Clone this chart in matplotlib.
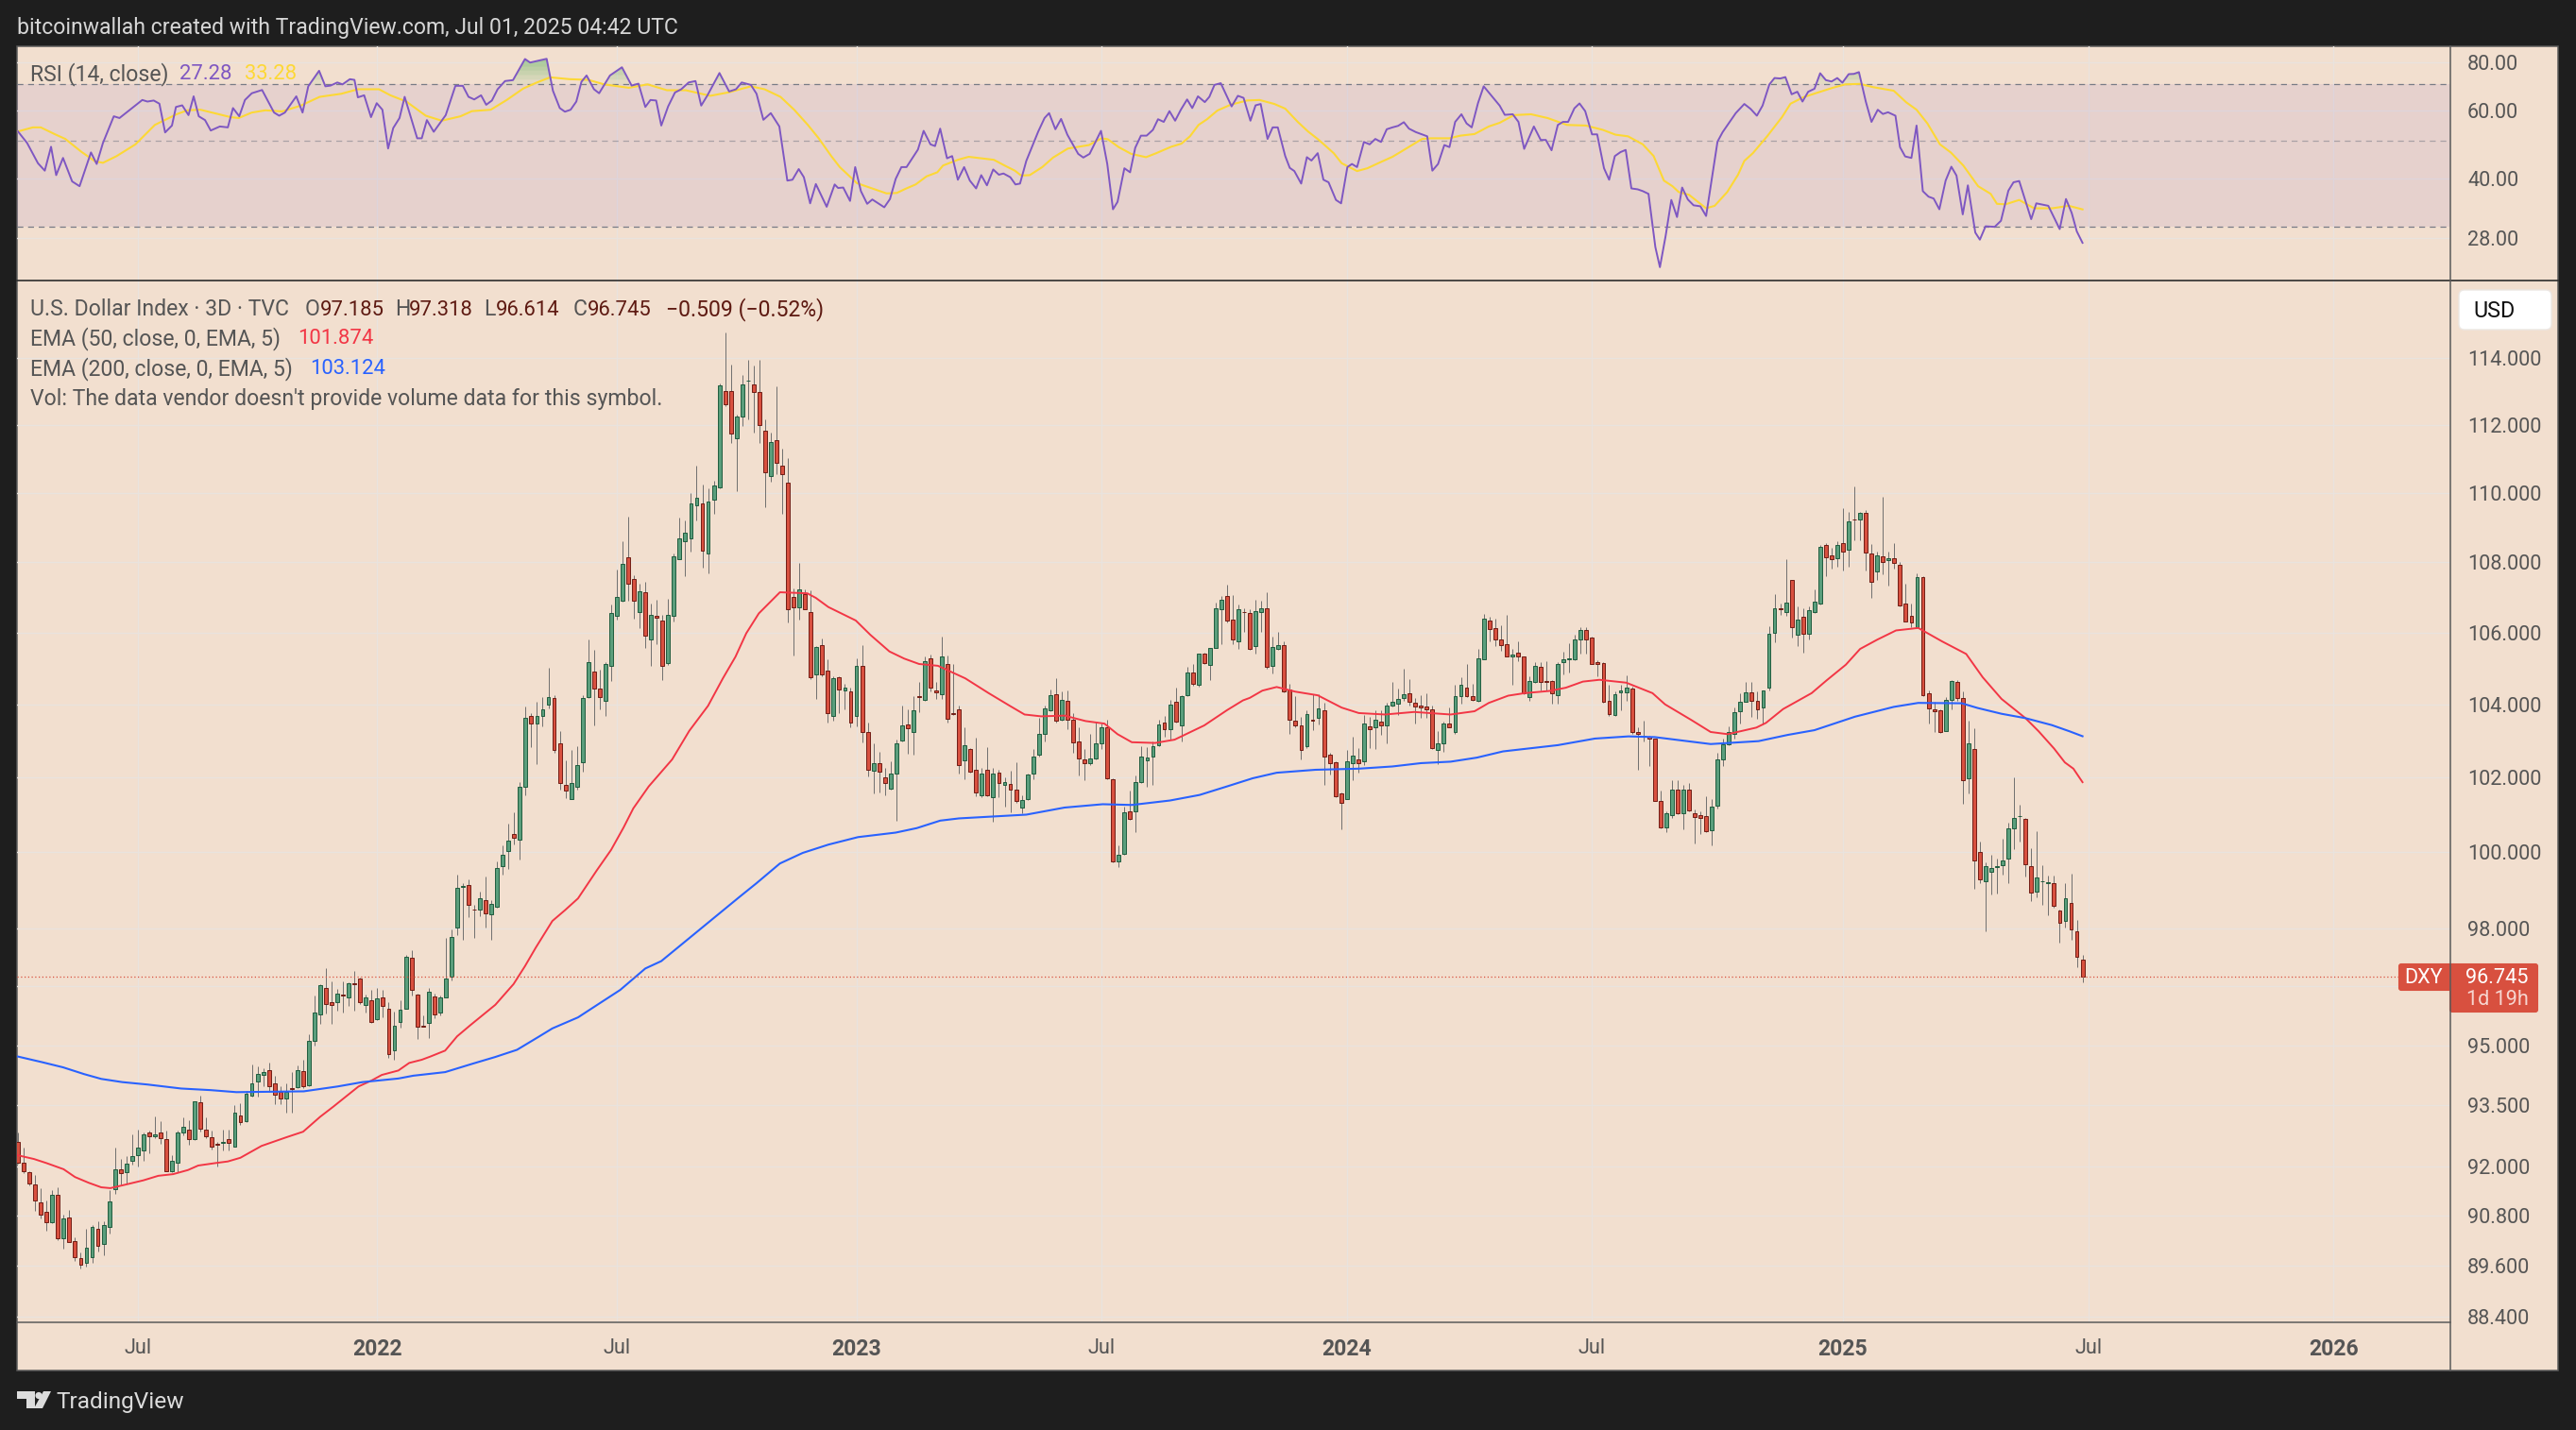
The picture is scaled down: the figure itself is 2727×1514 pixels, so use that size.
import numpy as np
import matplotlib
matplotlib.use('Agg')
import matplotlib.pyplot as plt
from matplotlib.patches import FancyBboxPatch, Rectangle, Polygon, Circle
from matplotlib.ticker import FixedLocator, FixedFormatter, NullLocator

plt.rcParams['font.family'] = ['Roboto', 'DejaVu Sans']

# DXY 3D candles
opens = [
    92.61, 92.10, 91.87, 91.57, 91.13, 90.89, 90.64, 91.31, 90.25, 90.76,
    90.20, 89.78, 89.68, 89.81, 90.48, 90.13, 90.53, 91.45, 91.92, 91.86,
    92.13, 92.28, 92.40, 92.83, 92.74, 92.83, 92.66, 91.89, 92.08, 92.82,
    92.91, 92.66, 93.58, 92.91, 92.72, 92.55, 92.58, 92.66, 92.49, 93.26,
    93.10, 93.75, 94.09, 94.25, 94.39, 94.05, 93.83, 93.67, 93.92, 93.96,
    94.35, 94.00, 95.11, 95.79, 96.47, 96.09, 96.09, 96.30, 96.23, 96.57,
    96.69, 96.03, 96.15, 95.67, 96.21, 95.94, 94.88, 95.60, 95.94, 97.23,
    96.28, 95.50, 95.57, 96.25, 95.84, 96.23, 96.76, 98.03, 99.09, 99.13,
    98.50, 98.49, 98.74, 98.36, 98.55, 99.64, 100.02, 100.49, 100.33, 101.74,
    103.67, 103.46, 103.67, 104.00, 104.17, 102.92, 101.79, 101.43, 101.76, 102.41,
    104.19, 104.90, 104.43, 104.11, 105.06, 106.48, 106.89, 108.13, 107.51, 106.59,
    107.13, 105.82, 106.48, 106.34, 105.15, 106.46, 108.09, 108.61, 108.69, 109.63,
    109.69, 108.24, 109.80, 110.17, 113.03, 113.03, 111.61, 112.26, 113.32, 113.21,
    113.00, 111.83, 110.49, 111.55, 110.81, 110.31, 107.00, 106.70, 107.08, 106.57,
    104.82, 105.64, 104.93, 103.67, 104.74, 104.39, 104.37, 103.67, 105.06, 103.24,
    102.18, 102.39, 102.00, 101.71, 102.10, 103.00, 103.44, 103.23, 104.22, 104.13,
    105.27, 104.39, 104.28, 105.13, 103.75, 103.87, 102.47, 102.77, 102.21, 101.51,
    102.21, 101.48, 102.13, 101.81, 101.82, 101.68, 101.20, 101.41, 102.10, 102.61,
    103.20, 103.84, 104.29, 103.57, 104.11, 103.57, 102.98, 102.49, 102.39, 102.52,
    102.92, 103.36, 101.95, 99.75, 99.96, 101.10, 101.09, 101.88, 102.46, 102.56,
    102.88, 103.49, 103.33, 104.08, 103.43, 104.26, 104.87, 104.54, 105.40, 105.10,
    105.58, 106.67, 107.03, 106.36, 105.75, 106.59, 106.55, 105.61, 106.59, 106.68,
    105.08, 105.53, 105.64, 104.41, 103.55, 103.42, 102.84, 103.58, 103.64, 103.83,
    102.62, 102.42, 101.56, 101.43, 102.40, 102.49, 102.45, 103.39, 103.36, 103.52,
    103.43, 103.96, 104.03, 104.18, 104.30, 104.04, 103.97, 103.93, 103.85, 102.74,
    102.93, 103.47, 103.25, 104.22, 104.47, 104.22, 104.11, 105.26, 106.33, 106.12,
    105.82, 105.67, 105.32, 105.43, 105.33, 104.21, 104.61, 105.04, 104.65, 104.64,
    104.26, 105.17, 105.26, 105.26, 105.82, 106.06, 105.85, 105.17, 105.14, 104.09,
    103.70, 104.32, 104.34, 104.43, 103.24, 103.11, 103.11, 103.06, 101.36, 100.66,
    101.00, 101.67, 101.04, 101.67, 101.05, 101.00, 100.97, 100.59, 101.25, 102.48,
    102.90, 103.20, 103.82, 104.08, 104.32, 104.09, 103.92, 104.45, 106.00, 106.68,
    106.59, 107.50, 105.95, 106.44, 105.97, 106.57, 106.81, 108.50, 108.20, 108.11,
    108.55, 108.36, 109.24, 109.23, 109.43, 108.25, 107.73, 108.17, 108.05, 108.12,
    107.93, 106.82, 106.47, 106.16, 107.58, 104.30, 103.85, 103.84, 103.27, 104.12,
    104.63, 104.17, 101.99, 102.77, 100.00, 99.23, 99.48, 99.60, 99.65, 99.83,
    100.64, 100.95, 100.89, 99.63, 98.96, 99.22, 99.18, 99.19, 98.47, 98.19,
    98.67, 97.93, 97.19,
]
highs = [
    92.83, 92.46, 91.88, 91.78, 91.46, 91.16, 91.43, 91.48, 90.83, 90.95,
    90.29, 89.93, 90.48, 90.58, 90.66, 90.66, 91.43, 92.46, 92.18, 92.24,
    92.78, 92.91, 92.84, 92.87, 93.22, 93.10, 92.88, 92.27, 92.88, 93.21,
    93.14, 93.61, 93.74, 93.21, 92.88, 92.61, 92.89, 92.91, 93.50, 93.56,
    93.85, 94.52, 94.48, 94.43, 94.58, 94.23, 93.97, 94.06, 94.33, 94.49,
    94.63, 95.28, 96.26, 96.56, 96.96, 96.64, 96.43, 96.63, 96.60, 96.90,
    96.72, 96.28, 96.41, 96.45, 96.41, 96.09, 95.86, 96.15, 97.30, 97.44,
    96.31, 95.76, 96.45, 96.32, 96.26, 97.74, 97.96, 99.41, 99.17, 99.29,
    98.61, 98.96, 99.36, 98.74, 99.76, 100.19, 100.77, 101.06, 101.87, 103.94,
    103.76, 104.07, 104.20, 105.01, 104.25, 103.27, 102.47, 102.75, 102.85, 104.25,
    105.80, 105.51, 104.96, 105.16, 106.79, 107.78, 108.61, 109.32, 107.62, 107.38,
    107.43, 106.82, 106.94, 106.49, 106.95, 108.24, 109.29, 109.19, 110.01, 110.81,
    110.24, 110.14, 110.35, 113.24, 114.80, 113.81, 112.31, 113.51, 113.95, 113.78,
    113.96, 112.16, 111.79, 113.17, 111.29, 111.01, 107.25, 107.99, 107.23, 107.19,
    105.63, 105.83, 105.25, 104.77, 104.79, 104.57, 104.46, 105.27, 105.65, 103.49,
    102.92, 102.71, 102.25, 102.44, 103.02, 103.96, 103.86, 104.24, 104.62, 105.32,
    105.39, 104.62, 105.88, 105.35, 105.12, 103.96, 103.37, 102.80, 103.08, 102.25,
    102.83, 102.25, 102.22, 102.00, 102.18, 102.41, 101.51, 102.12, 102.78, 103.62,
    103.96, 104.41, 104.72, 104.36, 104.38, 103.76, 103.37, 102.78, 103.18, 103.52,
    103.47, 103.57, 101.97, 100.18, 101.21, 101.66, 102.05, 102.86, 102.83, 102.98,
    103.57, 103.69, 104.13, 104.46, 104.26, 105.03, 105.12, 105.42, 105.44, 105.58,
    106.85, 107.03, 107.35, 107.05, 106.80, 106.68, 106.65, 106.92, 106.90, 107.13,
    105.89, 106.02, 105.75, 104.57, 104.22, 103.66, 103.83, 104.28, 104.28, 104.04,
    102.67, 102.45, 101.60, 102.76, 103.11, 102.80, 103.70, 103.66, 103.83, 103.83,
    104.04, 104.61, 104.44, 104.99, 104.70, 104.18, 104.26, 104.31, 103.96, 103.27,
    103.53, 103.91, 104.53, 104.75, 105.12, 104.57, 105.54, 106.53, 106.44, 106.40,
    106.20, 106.49, 105.55, 105.75, 105.34, 104.79, 105.18, 105.16, 105.20, 104.66,
    105.18, 105.45, 105.71, 105.93, 106.15, 106.15, 105.89, 105.23, 105.16, 104.53,
    104.35, 104.53, 104.81, 104.48, 103.36, 103.55, 103.14, 103.07, 101.66, 101.09,
    101.92, 101.94, 101.79, 101.85, 101.13, 101.09, 101.50, 101.43, 102.67, 103.06,
    103.40, 103.91, 104.31, 104.61, 104.61, 104.35, 104.39, 106.18, 107.10, 106.83,
    108.09, 107.50, 106.74, 106.69, 106.74, 107.21, 108.50, 108.55, 108.41, 108.59,
    109.55, 109.45, 110.20, 109.45, 109.50, 108.53, 108.29, 109.89, 108.29, 108.56,
    108.00, 107.39, 106.83, 107.68, 107.59, 104.38, 104.07, 103.86, 104.20, 104.67,
    104.67, 104.36, 103.54, 103.34, 100.27, 99.73, 99.93, 99.84, 100.36, 100.79,
    102.01, 101.26, 100.90, 100.10, 100.55, 99.66, 99.38, 99.38, 98.49, 99.17,
    99.42, 98.21, 97.32,
]
lows = [
    92.06, 91.84, 91.54, 90.92, 90.73, 90.45, 90.63, 90.22, 90.01, 90.16,
    89.71, 89.55, 89.59, 89.68, 89.94, 89.85, 90.38, 91.34, 91.56, 91.58,
    92.04, 92.00, 92.14, 92.31, 92.69, 92.56, 91.88, 91.85, 91.85, 92.76,
    92.53, 92.64, 92.85, 92.68, 92.42, 92.00, 92.38, 92.38, 92.48, 93.01,
    93.08, 93.73, 93.71, 93.97, 93.83, 93.54, 93.54, 93.33, 93.33, 93.93,
    93.93, 93.98, 94.99, 95.54, 95.80, 95.54, 95.89, 95.84, 96.00, 95.89,
    96.06, 95.84, 95.58, 95.65, 95.71, 94.69, 94.64, 95.45, 95.93, 96.26,
    95.16, 95.47, 95.18, 95.69, 95.76, 96.21, 96.65, 97.83, 97.70, 98.30,
    97.74, 98.32, 98.03, 97.69, 98.53, 99.40, 99.56, 100.21, 99.81, 101.52,
    102.83, 102.36, 103.40, 103.90, 102.68, 101.67, 101.44, 101.42, 101.68, 102.16,
    104.17, 103.42, 103.86, 103.68, 104.65, 106.36, 106.88, 106.90, 106.39, 106.12,
    105.57, 105.07, 105.68, 104.67, 105.09, 106.31, 108.09, 107.60, 108.31, 109.19,
    107.83, 107.69, 109.38, 110.14, 112.57, 111.48, 110.06, 111.97, 112.16, 111.79,
    111.48, 109.58, 110.33, 110.56, 109.38, 106.29, 105.35, 106.36, 106.65, 104.69,
    104.14, 104.77, 103.49, 103.55, 103.76, 103.86, 103.37, 103.39, 102.96, 102.02,
    101.56, 101.59, 101.53, 101.68, 100.84, 102.98, 102.64, 102.61, 103.79, 104.10,
    104.36, 104.16, 104.16, 103.51, 103.71, 102.10, 101.95, 102.14, 101.49, 101.46,
    101.49, 100.82, 101.46, 101.21, 101.06, 101.31, 101.05, 101.39, 101.96, 102.57,
    102.98, 103.81, 103.49, 103.55, 103.32, 102.67, 102.05, 101.94, 102.35, 102.49,
    102.78, 101.96, 99.73, 99.60, 99.93, 100.87, 100.54, 101.86, 101.75, 101.80,
    102.86, 103.12, 103.03, 103.49, 102.98, 104.24, 104.52, 104.49, 105.12, 104.67,
    105.56, 105.68, 106.29, 105.68, 105.55, 106.02, 105.52, 105.40, 106.02, 104.99,
    104.86, 105.52, 104.33, 103.20, 103.36, 102.50, 102.80, 103.29, 103.44, 101.79,
    102.09, 101.46, 100.62, 101.42, 101.94, 102.13, 102.35, 102.80, 102.78, 103.16,
    102.94, 103.93, 103.70, 104.09, 103.96, 103.46, 103.64, 103.64, 102.78, 102.37,
    102.69, 103.36, 103.20, 104.02, 104.21, 104.09, 104.06, 105.25, 105.75, 105.62,
    105.49, 105.32, 104.54, 105.21, 104.28, 104.11, 104.60, 104.39, 104.39, 104.02,
    104.02, 104.83, 104.88, 105.23, 105.40, 105.40, 105.12, 104.79, 104.04, 103.67,
    103.67, 103.83, 104.09, 103.18, 102.20, 102.97, 102.30, 101.37, 100.64, 100.53,
    100.91, 101.02, 100.62, 101.09, 100.23, 100.49, 100.53, 100.17, 101.17, 102.32,
    102.88, 103.06, 103.46, 104.06, 103.66, 103.59, 103.44, 104.38, 105.73, 106.49,
    106.47, 105.86, 105.61, 105.44, 105.80, 106.54, 106.80, 107.61, 107.82, 107.88,
    107.77, 107.88, 108.62, 108.62, 107.77, 106.99, 107.50, 107.64, 107.32, 107.82,
    106.74, 106.31, 106.14, 106.15, 104.24, 103.47, 103.23, 103.21, 103.26, 103.85,
    104.11, 101.29, 101.56, 99.03, 99.17, 97.93, 98.88, 98.91, 99.40, 99.17,
    100.09, 100.27, 99.35, 98.70, 98.81, 98.61, 98.35, 98.53, 97.62, 98.03,
    97.71, 97.00, 96.61,
]
closes = [
    92.10, 91.89, 91.59, 91.17, 90.83, 90.64, 91.31, 90.25, 90.73, 90.18,
    89.81, 89.64, 90.04, 90.53, 90.08, 90.58, 91.15, 91.93, 91.84, 92.07,
    92.26, 92.45, 92.79, 92.73, 92.79, 92.68, 91.89, 92.13, 92.84, 92.96,
    92.66, 93.61, 92.93, 92.73, 92.49, 92.54, 92.61, 92.58, 93.31, 93.08,
    93.78, 94.05, 94.28, 94.33, 93.97, 93.77, 93.67, 93.83, 93.90, 94.37,
    93.98, 95.11, 95.84, 96.54, 96.06, 96.03, 96.32, 96.26, 96.57, 96.55,
    96.09, 96.21, 95.60, 96.19, 95.99, 94.79, 95.50, 95.91, 97.27, 96.40,
    95.48, 95.48, 96.37, 95.79, 96.21, 96.71, 97.77, 99.06, 99.11, 98.61,
    98.48, 98.78, 98.39, 98.64, 99.58, 99.93, 100.31, 100.37, 101.76, 103.62,
    103.46, 103.67, 103.85, 104.19, 102.74, 101.86, 101.66, 101.84, 102.33, 104.17,
    105.16, 104.43, 104.19, 105.11, 106.54, 107.00, 107.96, 107.37, 106.91, 107.18,
    105.90, 106.51, 106.43, 105.06, 106.51, 108.18, 108.67, 108.84, 109.69, 109.86,
    108.32, 109.75, 110.22, 113.19, 112.62, 111.76, 112.26, 113.21, 113.34, 113.00,
    111.99, 110.61, 111.50, 110.88, 110.55, 106.67, 106.70, 107.21, 106.67, 104.74,
    105.59, 104.82, 103.76, 104.72, 104.42, 104.47, 103.51, 105.06, 103.23, 102.21,
    102.39, 102.15, 101.84, 102.11, 102.92, 103.41, 103.35, 103.84, 104.20, 105.21,
    104.47, 104.33, 105.32, 103.59, 103.73, 102.35, 102.87, 102.15, 101.59, 102.11,
    101.51, 102.11, 101.84, 101.87, 101.67, 101.36, 101.39, 102.08, 102.57, 103.20,
    103.89, 104.26, 103.55, 104.13, 103.57, 102.95, 102.53, 102.40, 102.52, 102.92,
    103.37, 101.98, 99.75, 99.92, 101.07, 100.89, 101.87, 102.57, 102.54, 102.85,
    103.44, 103.31, 103.98, 103.53, 104.24, 104.87, 104.58, 105.40, 105.15, 105.58,
    106.68, 106.92, 106.33, 105.82, 106.66, 106.57, 105.53, 106.60, 106.68, 105.03,
    105.59, 105.64, 104.35, 103.57, 103.42, 102.76, 103.73, 103.56, 103.88, 102.56,
    102.40, 101.49, 101.32, 102.44, 102.59, 102.40, 103.47, 103.33, 103.57, 103.42,
    103.96, 104.06, 104.14, 104.27, 104.06, 103.95, 103.91, 103.85, 102.79, 102.93,
    103.47, 103.38, 104.22, 104.54, 104.24, 104.13, 105.27, 106.39, 106.11, 105.82,
    105.64, 105.34, 105.38, 105.32, 104.30, 104.64, 105.06, 104.61, 104.63, 104.30,
    105.11, 105.24, 105.27, 105.82, 106.06, 105.82, 105.13, 105.13, 104.08, 103.74,
    104.29, 104.39, 104.45, 103.23, 103.20, 103.13, 103.05, 101.38, 100.66, 101.05,
    101.67, 101.04, 101.67, 101.12, 100.94, 100.91, 100.56, 101.21, 102.49, 102.91,
    103.24, 103.78, 104.06, 104.32, 104.11, 103.87, 104.38, 105.96, 106.68, 106.65,
    106.85, 106.14, 106.36, 105.97, 106.63, 106.87, 108.45, 108.14, 108.08, 108.50,
    108.29, 109.18, 109.22, 109.43, 108.27, 107.44, 108.20, 108.00, 108.12, 107.97,
    106.76, 106.32, 106.28, 107.58, 104.26, 103.89, 103.82, 103.23, 104.12, 104.64,
    104.17, 101.94, 102.92, 99.78, 99.28, 99.63, 99.58, 99.64, 99.78, 100.64,
    100.92, 100.97, 99.68, 98.94, 99.33, 99.24, 99.20, 98.59, 98.15, 98.79,
    97.97, 97.26, 96.745,
]

ema50_x = [
    0, 2.8, 5, 8, 10, 12.4, 14.6, 16.2, 19, 22, 24.6, 27.2, 29.8, 31.6, 34.6, 36.8, 39, 42.7, 47, 50,
    53, 55.3, 57.5, 59.7, 62, 63.8, 66.7, 68.6, 70.8, 72.3, 74.9, 77, 79.3, 83.7, 86.9, 88.9, 90.8,
    93.7, 95.9, 98.2, 101.5, 104, 106.2, 107.9, 110.6, 114.7, 117.7, 121, 123.6, 125.8, 127.7, 129.9,
    133.6, 138.4, 139.9, 142.1, 146.9, 149.5, 152.8, 155.4, 158, 161.3, 166.1, 170.2, 173.9, 176.5,
    179.4, 183.5, 187.2, 190.5, 192.8, 195.3, 199.4, 202.8, 208, 212, 214.8, 216, 218.2, 220.7, 224,
    227.9, 232.1, 235.1, 239.7, 244.8, 251.2, 255.4, 257.9, 261.3, 264.2, 268.5, 271.4, 274.4, 277.3,
    282, 286.6, 288.8, 293.4, 296.8, 299.8, 304.8, 306.5, 309.5, 314.5, 317.1, 320.5, 323, 326, 329.3,
    333.2, 337.4, 341.6, 344.5, 347.8, 352, 354.3, 357, 358.9, 360.4, 362,
]
ema50_y = [
    92.27, 92.18, 92.08, 91.93, 91.74, 91.60, 91.49, 91.47, 91.56, 91.66, 91.77, 91.81, 91.91, 92.02,
    92.08, 92.12, 92.21, 92.50, 92.71, 92.85, 93.22, 93.47, 93.72, 93.97, 94.12, 94.26, 94.37, 94.56,
    94.64, 94.72, 94.87, 95.23, 95.51, 96.03, 96.56, 97.02, 97.50, 98.19, 98.47, 98.78, 99.52, 100.06,
    100.66, 101.17, 101.76, 102.49, 103.27, 103.96, 104.72, 105.32, 105.98, 106.54, 107.14, 107.11,
    106.98, 106.72, 106.34, 105.93, 105.47, 105.27, 105.12, 105.07, 104.72, 104.31, 103.96, 103.72,
    103.67, 103.69, 103.54, 103.47, 103.18, 102.96, 102.94, 103.03, 103.42, 103.84, 104.11, 104.18,
    104.38, 104.48, 104.35, 104.25, 103.91, 103.76, 103.72, 103.79, 103.72, 103.81, 104.04, 104.24,
    104.31, 104.37, 104.46, 104.63, 104.68, 104.60, 104.31, 104.00, 103.57, 103.24, 103.18, 103.36,
    103.49, 103.87, 104.31, 104.66, 105.10, 105.54, 105.80, 106.06, 106.13, 105.75, 105.40, 104.75,
    104.15, 103.62, 103.26, 102.79, 102.41, 102.24, 101.874,
]
ema200_x = [
    0, 4.2, 7.9, 11.6, 14.6, 18.3, 22.7, 28.6, 33.8, 38.3, 44.2, 50.1, 56, 60.4, 66.7, 69.3, 74.9, 79.7,
    83.7, 87.5, 91.2, 93.7, 98.2, 101.9, 105.6, 110, 112.8, 126.6, 129.5, 133.6, 137.6, 142.1, 147.3,
    153.9, 157.6, 161.7, 165, 176.8, 183.5, 190.2, 195.3, 202, 207.2, 212, 216.5, 220.7, 227.5, 235.1,
    241, 246, 251.2, 255.8, 260.4, 270, 276.5, 282.4, 287, 296.8, 305.2, 310.3, 315, 322.1, 328.9, 333.2,
    340.8, 343.6, 347.8, 352, 356.6, 359.7, 362,
]
ema200_y = [
    94.72, 94.58, 94.45, 94.28, 94.16, 94.08, 94.02, 93.92, 93.88, 93.83, 93.84, 93.85, 93.97, 94.08,
    94.17, 94.24, 94.33, 94.54, 94.71, 94.89, 95.21, 95.43, 95.71, 96.06, 96.41, 96.96, 97.15, 98.83,
    99.18, 99.70, 99.98, 100.20, 100.40, 100.52, 100.64, 100.84, 100.90, 101.00, 101.19, 101.28, 101.26,
    101.38, 101.53, 101.76, 101.98, 102.13, 102.21, 102.24, 102.30, 102.39, 102.43, 102.54, 102.71,
    102.88, 103.06, 103.12, 103.10, 102.91, 102.99, 103.16, 103.29, 103.66, 103.93, 104.04, 104.03,
    103.90, 103.74, 103.62, 103.43, 103.26, 103.124,
]

rsi_x = [
    0, 1.6, 3.5, 4.7, 5.8, 6.7, 7.9, 9.5, 10.8, 12.8, 13.8, 14.9, 16.8, 17.8, 21.8, 22.7, 23.8, 24.8, 25.8, 27,
    27.7, 28.8, 29.9, 30.8, 31.7, 32.8, 33.8, 35.4, 36.8, 37.7, 38.8, 39.8, 41, 42.8, 44.9, 45.8, 46.8, 48.8,
    49.9, 50.9, 52.8, 53.9, 54.8, 56, 56.9, 58.2, 59, 59.6, 60.7, 61.9, 62.9, 63.9, 64.9, 65.8, 66.9, 67.8, 70,
    70.8, 71.7, 72.9, 75, 76.7, 78, 79, 80, 81.2, 82.1, 83.1, 84.1, 85.4, 86.8, 88.9, 89.8, 92.7, 93.8, 95, 95.9,
    96.9, 97.9, 98.8, 99.7, 101, 101.9, 103.8, 105.9, 107.6, 108.8, 110, 110.9, 111.9, 112.8, 114, 115.2, 116.3,
    117.6, 118.8, 119.8, 120.9, 123, 124.7, 125.9, 126.9, 128.5, 129.5, 130.7, 132, 133.5, 134.9, 135.8, 136.9,
    137.8, 138.9, 139.9, 141.8, 143.2, 143.8, 144.7, 145.9, 146.8, 147.8, 148.9, 149.8, 151.9, 152.9, 153.9,
    154.9, 155.8, 157.8, 158.8, 160, 160.8, 161.7, 162.9, 163.8, 164.8, 165.9, 166.9, 168, 168.9, 169.9, 171,
    172, 172.8, 174, 174.9, 175.7, 176.8, 178.9, 180, 180.8, 181.9, 182.9, 184, 185.9, 186.8, 187.9, 189.9, 191,
    192, 192.8, 194, 195, 195.9, 196.9, 197.9, 199, 199.9, 200.9, 201.9, 202.9, 203.9, 205, 205.9, 206.9, 208.1,
    208.9, 209.8, 210.9, 212.8, 213.9, 214.9, 216.1, 217, 217.9, 219.1, 220, 220.9, 222.2, 223, 223.8, 225, 226,
    226.8, 227.9, 228.9, 229.8, 231.1, 232, 233.1, 233.9, 234.8, 236, 237, 238, 239, 240, 241, 242, 243, 243.9,
    245.1, 246, 247.1, 248, 249, 250.1, 251, 252, 253.1, 254, 254.9, 256, 257, 259.8, 260.7, 262.1, 263.1, 264.1,
    265.8, 267, 267.9, 268.9, 270, 270.9, 271.8, 272.9, 273.8, 274.8, 276, 276.9, 278.1, 279, 280, 281, 281.9,
    282.9, 284, 284.9, 285.9, 287.1, 287.9, 288.9, 289.9, 290.9, 291.8, 292.8, 293.8, 295, 296, 298, 298.9, 301.2,
    302.7, 303.8, 304.9, 305.9, 307.1, 308, 309, 309.9, 311, 312, 312.9, 313.9, 315, 316, 317, 318, 319, 319.9,
    321, 321.9, 322.8, 324, 325, 326.1, 327, 327.9, 329.2, 330, 330.9, 332, 332.9, 334, 335, 335.9, 336.9, 338,
    339, 339.9, 341, 341.9, 343.2, 344, 345, 346.6, 347.7, 349, 349.9, 350.9, 353, 353.9, 356, 358, 359.1, 360.1,
    361, 362,
]
rsi_y = [
    52.9, 49.4, 43.8, 41.9, 48.3, 40.8, 45.2, 39.3, 38.2, 46.7, 43.6, 49.4, 57.9, 57.3, 63.8, 63.2, 63.6, 62.4,
    52.6, 54.8, 61.2, 61.8, 58.3, 65.2, 57.9, 56.6, 53.2, 54.5, 54.2, 60.8, 57.9, 63.8, 66.4, 67.7, 59.2, 58.1,
    59.2, 65.2, 59.2, 69.2, 75.9, 69.2, 69.5, 70.8, 70.0, 72.2, 71.9, 64.8, 65.6, 57.6, 62.6, 60.2, 47.8, 54.0,
    57.3, 65.0, 50.8, 50.8, 56.6, 52.8, 58.3, 69.4, 69.4, 65.0, 64.0, 65.6, 62.0, 63.6, 68.0, 71.4, 71.8, 81.4,
    79.7, 81.5, 67.4, 60.8, 59.5, 60.2, 63.2, 71.1, 73.8, 68.0, 66.4, 73.8, 77.5, 69.5, 70.3, 61.2, 63.8, 63.6,
    54.8, 61.4, 66.7, 68.0, 70.8, 71.4, 61.7, 65.6, 74.9, 67.1, 68.0, 70.8, 69.8, 66.2, 56.7, 59.0, 54.5, 39.5,
    39.7, 42.3, 40.3, 34.5, 38.7, 33.8, 38.6, 37.8, 37.9, 35.0, 42.8, 37.1, 34.4, 35.3, 33.7, 35.4, 39.9, 42.8,
    42.8, 47.5, 53.1, 49.0, 48.5, 53.8, 45.1, 45.7, 39.7, 42.8, 39.5, 37.7, 40.8, 38.4, 42.2, 40.9, 41.2, 40.3,
    38.6, 38.8, 44.4, 52.9, 57.3, 59.0, 53.6, 57.0, 51.9, 46.3, 45.3, 46.3, 53.1, 43.6, 33.3, 34.8, 42.5, 41.5,
    48.0, 51.6, 51.6, 53.4, 56.9, 56.0, 59.7, 56.4, 60.2, 64.0, 60.8, 65.2, 63.0, 65.0, 69.8, 70.5, 61.4, 65.4,
    64.6, 56.4, 61.8, 62.3, 50.6, 54.2, 54.2, 45.7, 42.6, 41.8, 38.8, 45.4, 44.5, 46.5, 39.7, 39.1, 35.2, 34.5,
    42.8, 43.6, 42.8, 49.7, 49.0, 50.6, 49.7, 53.6, 54.2, 54.7, 55.9, 53.8, 52.7, 52.1, 51.4, 41.9, 43.6, 48.8,
    48.2, 56.0, 58.6, 55.5, 54.2, 62.6, 69.2, 61.7, 58.4, 58.6, 56.0, 47.7, 54.5, 50.3, 50.3, 47.3, 55.0, 56.0,
    56.0, 60.7, 62.5, 59.7, 52.0, 52.0, 42.5, 39.7, 45.7, 46.8, 47.4, 37.7, 37.5, 37.1, 36.5, 26.6, 23.6, 28.4,
    35.2, 31.8, 37.9, 35.3, 34.1, 33.9, 32.0, 49.8, 52.7, 59.0, 62.3, 60.5, 58.1, 61.7, 70.0, 72.7, 72.5, 73.1,
    66.0, 67.0, 63.2, 67.0, 68.2, 74.8, 71.8, 71.2, 72.7, 70.7, 74.4, 74.5, 75.3, 63.2, 56.0, 60.2, 58.7, 59.3,
    58.1, 48.2, 45.6, 45.2, 54.8, 37.1, 35.9, 35.5, 33.3, 39.5, 42.9, 40.7, 32.3, 38.4, 29.0, 27.8, 30.1, 30.0,
    31.1, 37.2, 39.1, 39.4, 31.4, 34.5, 34.0, 29.6, 35.4, 32.6, 29.2, 27.28,
]
rsi_ma_x = [
    0, 2.6, 4, 6.4, 8.3, 11.1, 13.5, 14.9, 17.3, 20.6, 24, 25.4, 27.8, 29.7, 32, 34.4, 37.3, 38.7, 41, 43.4, 46.3,
    49.6, 52.9, 56.7, 59.6, 63.3, 65.3, 68.1, 71.5, 74.3, 77.6, 79.6, 82.9, 85.7, 88.6, 91, 93.3, 96.7, 100, 102.8,
    107.1, 110.4, 113.8, 117.1, 121.4, 124.7, 128.5, 130.9, 133.7, 136.1, 138.5, 140.4, 142.6, 144.1, 147.1, 150,
    152.3, 154.1, 155.6, 157.4, 159.3, 161.2, 162.2, 164.8, 166.7, 171.1, 173, 174.8, 175.9, 177.4, 179.6, 181.5,
    184.1, 187.8, 190, 191.1, 193, 195.2, 197.8, 199.6, 202.2, 204, 205.5, 207, 208.5, 210.3, 212.6, 215.5, 217.7,
    220.3, 222.2, 224.4, 226.2, 228.1, 230.7, 232.1, 234.8, 236.6, 238.8, 241, 242.5, 246.2, 247.7, 251, 252.9,
    255.4, 257.9, 259.8, 262.3, 265.3, 268.2, 271.6, 274.9, 277.9, 280.1, 282.3, 284.9, 286.8, 288.6, 290.1, 291.2,
    293, 296, 297.5, 299.7, 301.6, 302.7, 304.2, 306.7, 309.3, 310.8, 313, 315.2, 318.2, 320.4, 323, 325.2, 328.9,
    331.1, 332.9, 334.8, 337, 338.9, 341.1, 343.7, 345.9, 347, 348.5, 350.9, 353.5, 356.7, 359.6, 362,
]
rsi_ma_y = [
    52.9, 54.2, 54.2, 52.1, 50.6, 46.9, 44.3, 43.9, 45.7, 49.0, 55.0, 56.3, 58.6, 60.0, 60.2, 59.0, 57.6, 57.3,
    59.2, 60.0, 59.6, 61.7, 65.0, 66.2, 68.0, 68.0, 65.6, 63.2, 58.1, 56.4, 57.9, 59.7, 60.2, 63.8, 68.3, 70.8,
    73.0, 72.2, 71.9, 70.0, 68.6, 70.0, 67.6, 67.6, 65.4, 66.8, 69.2, 68.0, 65.0, 60.2, 55.0, 50.8, 45.7, 42.8,
    38.9, 37.6, 36.6, 36.7, 37.6, 38.6, 40.5, 41.5, 43.2, 44.7, 45.5, 44.7, 43.2, 41.9, 40.7, 40.8, 42.8, 45.3,
    47.8, 48.8, 50.8, 50.5, 48.2, 46.3, 45.4, 46.5, 48.3, 49.2, 51.4, 55.0, 56.9, 59.9, 62.0, 63.6, 63.8, 62.3,
    60.6, 56.0, 52.9, 50.3, 46.5, 43.8, 41.8, 42.5, 44.0, 45.5, 46.9, 50.6, 50.8, 50.8, 51.6, 52.1, 54.5, 55.7,
    58.3, 58.6, 57.3, 55.0, 54.8, 53.4, 51.9, 51.4, 49.0, 45.7, 39.5, 38.2, 36.9, 36.3, 33.5, 34.0, 36.9, 40.9,
    44.4, 46.5, 51.4, 57.6, 62.4, 64.8, 66.4, 68.6, 70.0, 70.2, 68.9, 67.4, 62.9, 60.2, 55.5, 49.0, 46.7, 43.2,
    38.2, 36.5, 34.4, 34.3, 35.2, 33.5, 33.5, 34.0, 33.28,
]

# axis ticks
price_ticks = [114, 112, 110, 108, 106, 104, 102, 100, 98, 96.5, 95, 93.5, 92, 90.8, 89.6, 88.4]
price_labels = ['114.000', '112.000', '110.000', '108.000', '106.000', '104.000', '102.000', '100.000',
                '98.000', '', '95.000', '93.500', '92.000', '90.800', '89.600', '88.400']
rsi_ticks = [80, 60, 40, 28]
rsi_labels = ['80.00', '60.00', '40.00', '28.00']
time_ticks = [21, 63, 105, 147, 190, 233, 276, 320, 363, 406]
time_labels = ['Jul', '2022', 'Jul', '2023', 'Jul', '2024', 'Jul', '2025', 'Jul', '2026']

W, H = 2727, 1514
BG = '#f2dfcf'
DARK = '#1e1e1e'
GRID = '#e9e3de'
TXT = '#555555'
UP = '#5a9e7c'
UP_EDGE = '#1c5a3c'
DOWN = '#d8503f'
DOWN_EDGE = '#6e1a12'
WICK = '#6f6f6f'
LEFT, RIGHT, TOP, SEP, BOTTOM = 18, 2594, 49, 297, 1400


def pane(top, bottom):
    return [LEFT / W, 1 - bottom / H, (RIGHT - LEFT) / W, (bottom - top) / H]


fig = plt.figure(figsize=(W / 100, H / 100), dpi=100, facecolor=DARK)

# full-figure layers in pixel coords
back = fig.add_axes([0, 0, 1, 1], zorder=0)
back.set_xlim(0, W)
back.set_ylim(H, 0)
back.axis('off')
back.add_patch(Rectangle((LEFT, TOP), 2708 - LEFT, 1451 - TOP, facecolor=BG, edgecolor='#5a5a5a', lw=1.1))

ax_rsi = fig.add_axes(pane(TOP, SEP), zorder=1, facecolor='none')
ax = fig.add_axes(pane(SEP, BOTTOM), zorder=1, facecolor='none')

for a in (ax, ax_rsi):
    a.set_xlim(-0.17, 426.5)
    a.set_yscale('log')
    a.yaxis.tick_right()
    a.yaxis.set_minor_locator(NullLocator())
    a.xaxis.set_major_locator(FixedLocator(time_ticks))
    a.grid(True, color=GRID, lw=1.0, zorder=0)
    a.set_axisbelow(True)
    a.tick_params(length=0, labelsize=15.6, labelcolor=TXT, pad=13)
    for s in a.spines.values():
        s.set_visible(False)

# RSI pane
rx = np.array(rsi_x)
ry = np.array(rsi_y)
ax_rsi.set_ylim(21.8, 87.8)
ax_rsi.yaxis.set_major_locator(FixedLocator(rsi_ticks))
ax_rsi.yaxis.set_major_formatter(FixedFormatter(rsi_labels))
ax_rsi.tick_params(axis='x', labelbottom=False)
ax_rsi.axhspan(30, 70, color='#7e57c2', alpha=0.1, lw=0, zorder=1)
ax_rsi.axhline(70, color='#787b86', lw=0.9, ls=(0, (5, 4)), zorder=2)
ax_rsi.axhline(50, color='#787b86', lw=0.9, ls=(0, (5, 4)), alpha=0.55, zorder=2)
ax_rsi.axhline(30, color='#787b86', lw=0.9, ls=(0, (5, 4)), zorder=2)
for t in range(70, 84, 2):
    ax_rsi.fill_between(rx, t, ry, where=ry > t, interpolate=True, color='#4caf50', alpha=0.09, lw=0, zorder=2)
ax_rsi.plot(rsi_ma_x, rsi_ma_y, color='#fdd835', lw=1.5, zorder=3)
ax_rsi.plot(rx, ry, color='#7e57c2', lw=1.4, zorder=4)

# main pane
ax.set_ylim(88.27, 116.38)
ax.yaxis.set_major_locator(FixedLocator(price_ticks))
ax.yaxis.set_major_formatter(FixedFormatter(price_labels))
ax.xaxis.set_major_formatter(FixedFormatter(time_labels))
ax.tick_params(axis='x', pad=12, labelsize=15.6)
for lab, name in zip(ax.get_xticklabels(), time_labels):
    if name.isdigit():
        lab.set_fontweight('bold')
        lab.set_fontsize(16.6)

o = np.array(opens)
h = np.array(highs)
l = np.array(lows)
c = np.array(closes)
idx = np.arange(len(c))
up = c >= o
ax.vlines(idx, l, h, color=WICK, lw=0.7, zorder=2)
ax.bar(idx, np.abs(c - o), bottom=np.minimum(o, c), width=0.64,
       color=np.where(up, UP, DOWN), edgecolor=np.where(up, UP_EDGE, DOWN_EDGE), linewidth=0.68, zorder=3)
ax.plot(ema50_x, ema50_y, color='#f23645', lw=1.4, zorder=4)
ax.plot(ema200_x, ema200_y, color='#2962ff', lw=1.5, zorder=4)
ax.axhline(closes[-1], color=DOWN, lw=0.9, ls=(0, (1, 2)), zorder=5)

# overlay: frame lines, tags, legends, header
top = fig.add_axes([0, 0, 1, 1], zorder=5, facecolor='none')
top.set_xlim(0, W)
top.set_ylim(H, 0)
top.axis('off')
top.plot([LEFT, 2708], [SEP, SEP], color='#2e2e2e', lw=1.2)
top.plot([LEFT, RIGHT], [BOTTOM, BOTTOM], color='#5a5a5a', lw=1.1)
top.plot([RIGHT, RIGHT], [TOP, 1451], color='#5a5a5a', lw=1.1)

# last price tag
top.add_patch(FancyBboxPatch((2540, 1021), 60, 27, boxstyle='round,pad=0,rounding_size=2', fc=DOWN, ec=DOWN, lw=1.5))
top.add_patch(FancyBboxPatch((RIGHT, 1021), 92, 50, boxstyle='round,pad=0,rounding_size=2', fc=DOWN, ec=DOWN, lw=1.5))
top.text(2566, 1035.5, 'DXY', color='white', fontsize=15.6, ha='center', va='center')
top.text(2610, 1035.5, '96.745', color='white', fontsize=15.6, ha='left', va='center')
top.text(2611, 1058, '1d 19h', color='#f6d5cf', fontsize=15.6, ha='left', va='center')

# currency button
top.add_patch(FancyBboxPatch((2603, 307), 98, 42, boxstyle='round,pad=0,rounding_size=6', fc='white', ec='#ece7e3', lw=1))
top.text(2618, 329, 'USD', color='#111111', fontsize=16.8, ha='left', va='center')

LEG = 16.6
VAL = 15.8


def label(x, y, s, color=TXT, size=LEG):
    top.text(x, y, s, color=color, fontsize=size, ha='left', va='center')


label(18, 29.5, 'bitcoinwallah created with TradingView.com, Jul 01, 2025 04:42 UTC', '#d6d6d6')
label(32, 79, 'RSI (14, close)')
label(190, 79, '27.28', '#7e57c2', VAL)
label(259, 79, '33.28', '#fdd835', VAL)

OHLC = '#5e1a12'
label(32, 328, 'U.S. Dollar Index · 3D · TVC')
label(322.6, 328, 'O')
label(339, 328, '97.185', OHLC, VAL)
label(418, 328, 'H')
label(433, 328, '97.318', OHLC, VAL)
label(512.6, 328, 'L')
label(525, 328, '96.614', OHLC, VAL)
label(607, 328, 'C')
label(622, 328, '96.745', OHLC, VAL)
label(705, 328, '\u22120.509 (\u22120.52%)', OHLC)
label(32, 359, 'EMA (50, close, 0, EMA, 5)')
label(315, 359, '101.874', '#f23645', VAL)
label(32, 391, 'EMA (200, close, 0, EMA, 5)')
label(328, 391, '103.124', '#2962ff', VAL)
label(32, 422, "Vol: The data vendor doesn't provide volume data for this symbol.")

# logo
LOGO = '#dcdcdc'
top.add_patch(Polygon([(18, 1473), (37, 1473), (37, 1491), (28, 1491), (28, 1481), (18, 1481)], fc=LOGO, ec='none'))
top.add_patch(Circle((41, 1477.5), 3.6, fc=LOGO, ec='none'))
top.add_patch(Polygon([(46, 1473), (54, 1473), (45, 1491), (36, 1491)], fc=LOGO, ec='none'))
top.text(59, 1484, 'TradingView', color=LOGO, fontsize=17.6, ha='left', va='center')

fig.savefig('out.png', dpi=100, facecolor=DARK)
